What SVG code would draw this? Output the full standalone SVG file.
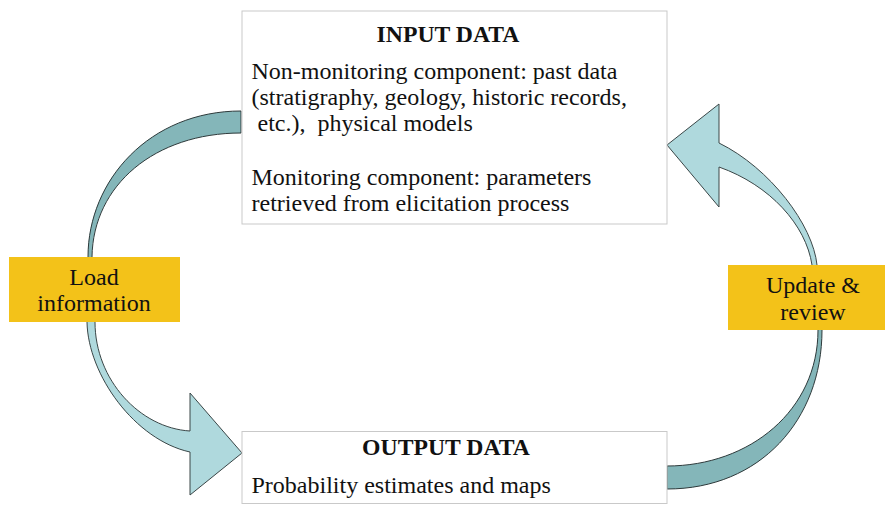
<svg xmlns="http://www.w3.org/2000/svg" width="885" height="505" viewBox="0 0 885 505">
  <style>
    .txt { font-family: "Liberation Serif", "Times New Roman", "DejaVu Serif", serif; font-size: 24px; fill: #111; }
    .title { font-weight: bold; font-size: 23.7px; text-anchor: middle; }
    .mid { text-anchor: middle; }
    .pre { white-space: pre; }
    .box { fill: #ffffff; stroke: #c9c9c9; stroke-width: 1; }
    .tag { fill: #f3c219; }
    .back { fill: #84b6b9; stroke: #2e3a3b; stroke-width: 1; }
    .front { fill: #afd9dd; stroke: #3a4647; stroke-width: 1; }
  </style>

  <!-- curved arrows -->
  <g id="connectors">
    <!-- load information: input box down to output box -->
    <path class="back" d="M241,111 C150,111 88,180 88,257 L87,300 L95,300 L92,257 C93,185 155,133 241,133 Z"/>
    <path class="front" d="M87,290 L87,322 C88,375 135,440 190,452 L190,495 L242,453 L190,393 L190,431 C140,428 95,380 95,322 L95,290 Z"/>
    <!-- update and review: output box back up to input box -->
    <path class="back" d="M667,489 C760,489 822,420 822,330 L822,300 L818,300 L818,330 C818,410 750,466 667,466 Z"/>
    <path class="front" d="M818,300 L817,265 C813,225 770,168 719,143 L719,104 L667,145 L719,207 L719,167 C770,185 806,225 812,265 L812,300 Z"/>
  </g>

  <g id="input-data">
    <rect class="box" x="242" y="11" width="425" height="213"/>
    <text class="txt title" x="448" y="42">INPUT DATA</text>
    <text class="txt" x="251.5" y="79">Non-monitoring component: past data</text>
    <text class="txt" x="251.5" y="105">(stratigraphy, geology, historic records,</text>
    <text class="txt pre" x="251.5" y="131"> etc.),  physical models</text>
    <text class="txt" x="251.5" y="185">Monitoring component: parameters</text>
    <text class="txt" x="251.5" y="211">retrieved from elicitation process</text>
  </g>

  <g id="output-data">
    <rect class="box" x="242" y="431.5" width="425" height="72"/>
    <text class="txt title" x="446" y="455">OUTPUT DATA</text>
    <text class="txt" x="251.5" y="493">Probability estimates and maps</text>
  </g>

  <g id="load-information">
    <rect class="tag" x="9" y="257" width="171" height="65"/>
    <text class="txt mid" x="94" y="285">Load</text>
    <text class="txt mid" x="94" y="311">information</text>
  </g>

  <g id="update-review">
    <rect class="tag" x="728" y="265" width="157" height="65"/>
    <text class="txt mid" x="813" y="293">Update &amp;</text>
    <text class="txt mid" x="813" y="320">review</text>
  </g>
</svg>
